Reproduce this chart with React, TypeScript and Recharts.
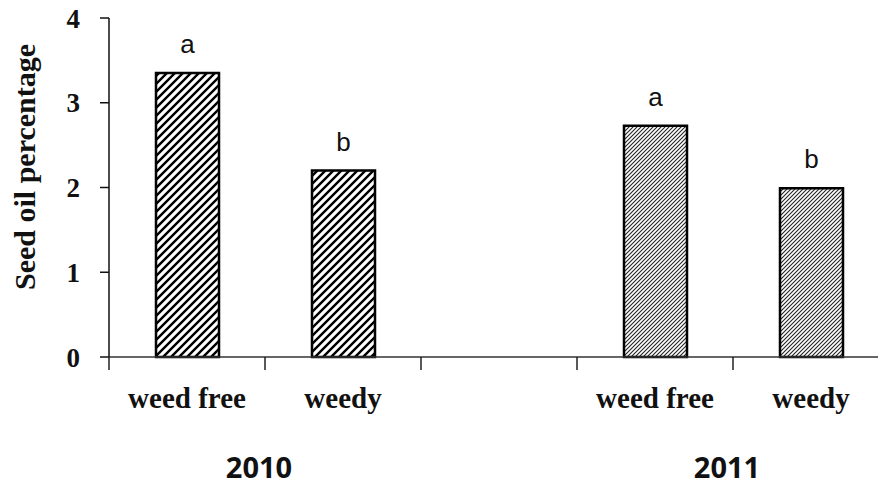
import React from 'react'
import { BarChart, Bar, XAxis, YAxis, Cell, LabelList } from 'recharts'

// ── Data ──────────────────────────────────────────────────────────────────────

const treatments = ['weed free', 'weedy', '', 'weed free', 'weedy']
const seasons = ['2010', '2010', '', '2011', '2011']
const oilPercent: (number | null)[] = [3.35, 2.2, null, 2.73, 1.99]
const letters = ['a', 'b', '', 'a', 'b']
const yearLabels = ['2010', '2011']
const yTicks = [0, 1, 2, 3, 4]

const data = treatments.map((t, i) => ({
  id: i,
  treatment: t,
  season: seasons[i],
  oil: oilPercent[i],
  letter: letters[i],
}))

// ── Layout ────────────────────────────────────────────────────────────────────

const CHART_W = 890
const CHART_H = 490
const Y_AXIS_W = 109
const TOP = 18
const X_AXIS_H = 133
const PLOT_BOTTOM = CHART_H - X_AXIS_H
const BAND = (CHART_W - 1 - Y_AXIS_W) / treatments.length

const serif = '"Liberation Serif", "Times New Roman", serif'
const sans = '"Liberation Sans", Arial, sans-serif'

function hatchPath(w: number) {
  return `M${-w / 2},${w / 2} L${w / 2},${-w / 2} M0,${w} L${w},0 M${w / 2},${w * 1.5} L${w * 1.5},${w / 2}`
}

function XTick(props: any) {
  const { x, index, payload } = props
  // year group label sits under the boundary between the two bars of a year
  const yearIdx = index === 0 ? 0 : index === 3 ? 1 : -1
  return (
    <g>
      <line x1={x - BAND / 2} x2={x - BAND / 2} y1={PLOT_BOTTOM} y2={PLOT_BOTTOM + 13}
        stroke="#222" strokeWidth={1.5} />
      {payload.value && (
        <text x={x} y={PLOT_BOTTOM + 51} textAnchor="middle" fontFamily={serif}
          fontWeight="bold" fontSize={29} fill="#111">
          {payload.value}
        </text>
      )}
      {yearIdx >= 0 && (
        <text x={x + BAND / 2 - 6} y={PLOT_BOTTOM + 121} textAnchor="middle"
          fontFamily='"Open Sans", sans-serif' fontWeight="bold" fontSize={29} fill="#111">
          {yearLabels[yearIdx]}
        </text>
      )}
    </g>
  )
}

export default function App() {
  return (
    <div style={{
      position: 'absolute', left: 0, top: 0, width: 878, height: 490,
      overflow: 'hidden', background: '#fff',
    }}>
      <BarChart width={CHART_W} height={CHART_H} data={data}
        margin={{ top: TOP, right: 1, left: 0, bottom: 0 }}>
        <defs>
          <pattern id="hatchWide" patternUnits="userSpaceOnUse" width={8} height={8}>
            <rect width={8} height={8} fill="#fff" />
            <path d={hatchPath(8)} stroke="#000" strokeWidth={2.4} />
          </pattern>
          <pattern id="hatchFine" patternUnits="userSpaceOnUse" width={4} height={4}>
            <rect width={4} height={4} fill="#fff" />
            <path d={hatchPath(4)} stroke="#222" strokeWidth={1.1} />
          </pattern>
        </defs>
        <XAxis
          dataKey="treatment"
          allowDuplicatedCategory
          interval={0}
          height={X_AXIS_H}
          tickLine={false}
          axisLine={{ stroke: '#333', strokeWidth: 1.5 }}
          tick={<XTick />}
        />
        <YAxis
          domain={[0, 4]}
          ticks={yTicks}
          width={Y_AXIS_W}
          tickSize={9}
          tickMargin={20}
          axisLine={{ stroke: '#111', strokeWidth: 1.5 }}
          tickLine={{ stroke: '#111', strokeWidth: 1.5 }}
          tick={{ fontFamily: serif, fontWeight: 'bold', fontSize: 27, fill: '#111' }}
          label={{
            content: () => (
              <text transform="translate(35,167) rotate(-90)" textAnchor="middle"
                fontFamily={serif} fontWeight="bold" fontSize={30} fill="#111">
                Seed oil percentage
              </text>
            ),
          }}
        />
        <Bar dataKey="oil" barSize={63} stroke="#000" strokeWidth={2.5}
          isAnimationActive={false}>
          {data.map((d) => (
            <Cell key={d.id} fill={d.season === '2010' ? 'url(#hatchWide)' : 'url(#hatchFine)'} />
          ))}
          <LabelList dataKey="letter" position="top" offset={20}
            style={{ fontFamily: sans, fontSize: 26, fill: '#111' }} />
        </Bar>
      </BarChart>
    </div>
  )
}
